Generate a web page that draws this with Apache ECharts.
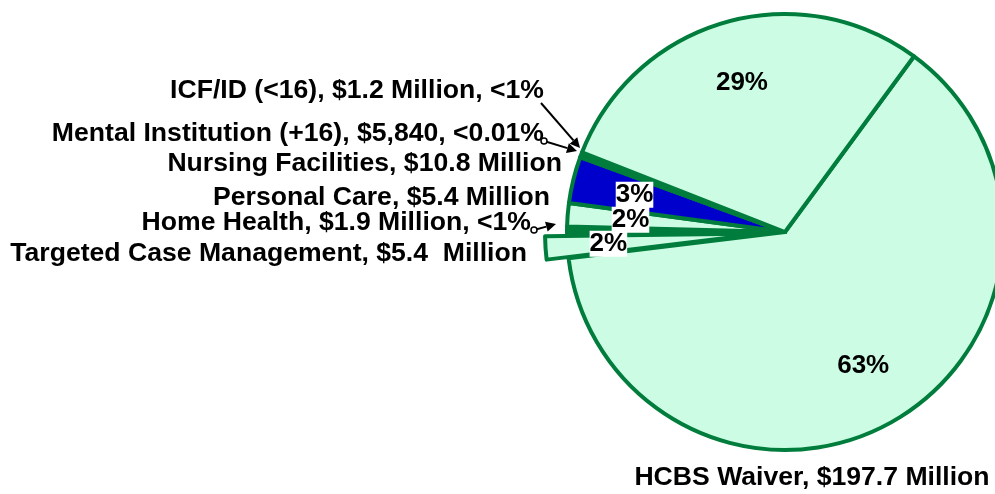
<!DOCTYPE html>
<html>
<head>
<meta charset="utf-8">
<title>Gastos por serviço</title>
<script src="https://cdn.jsdelivr.net/npm/echarts@6/dist/echarts.min.js"></script>
<style>
  html, body { margin: 0; padding: 0; background: #fff; }
  #chart { width: 995px; height: 494px; }
</style>
</head>
<body>
<div id="chart"></div>
<script>
// fatias na ordem de desenho (sentido horário a partir da linha superior direita)
const categorias = ['HCBS Waiver', 'Targeted Case Management', 'Home Health', 'Personal Care',
  'Nursing Facilities', 'Mental Institution (+16)', 'ICF/ID (<16)', 'Other'];
// milhões de dólares
const valores = [197.7, 5.4, 1.9, 5.4, 10.8, 0.00584, 1.2, 91.4];
const rotulos = [
  'HCBS Waiver, $197.7 Million',
  'Targeted Case Management, $5.4  Million',
  'Home Health, $1.9 Million, <1%',
  'Personal Care, $5.4 Million',
  'Nursing Facilities, $10.8 Million',
  'Mental Institution (+16), $5,840, <0.01%',
  'ICF/ID (<16), $1.2 Million, <1%',
  ''
];
const mostraPct = [true, true, false, true, true, false, false, true];
const destacado = [false, true, false, false, false, false, false, false];

// estilo e posições (fora dos dados)
const VERDE = '#007d3c';
const CLARO = '#ccfde4';
const AZUL = '#0000cc';
const cores = [CLARO, CLARO, VERDE, CLARO, AZUL, VERDE, VERDE, CLARO];
const FONTE = '"Liberation Sans", Arial, sans-serif';
const CENTRO = [785, 232];
const RAIO = 218;
const INICIO = 53.7;

// [x, y, align] dos rótulos de nome
const posRotulos = [
  [812, 478, 'center'],
  [527, 254, 'right'],
  [531, 223, 'right'],
  [550, 198, 'right'],
  [562, 164, 'right'],
  [544, 134, 'right'],
  [544, 91, 'right'],
  null
];

// setas de chamada
const setas = [
  { de: [541, 103], ate: [580, 148], bola: false },
  { de: [544, 141], ate: [577, 151], bola: true },
  { de: [534, 230], ate: [556, 224], bola: true }
];

function montaSetas(){
  const els = [];
  setas.forEach(s => {
    const dx = s.ate[0] - s.de[0], dy = s.ate[1] - s.de[1];
    const len = Math.sqrt(dx*dx + dy*dy);
    const ux = dx/len, uy = dy/len, nx = -uy, ny = ux;
    const bx = s.ate[0] - ux*10, by = s.ate[1] - uy*10;
    els.push({ type: 'line', shape: { x1: s.de[0], y1: s.de[1], x2: bx, y2: by },
      style: { stroke: '#000', lineWidth: 2 }, z: 100 });
    els.push({ type: 'polygon', shape: { points: [s.ate, [bx + nx*5, by + ny*5], [bx - nx*5, by - ny*5]] },
      style: { fill: '#000' }, z: 100 });
    if(s.bola){
      els.push({ type: 'circle', shape: { cx: s.de[0], cy: s.de[1], r: 3 },
        style: { fill: '#fff', stroke: '#000', lineWidth: 1.5 }, z: 101 });
    }
  });
  return els;
}

const chart = echarts.init(document.getElementById('chart'), null, { renderer: 'canvas' });

const base = {
  type: 'pie',
  center: CENTRO,
  startAngle: INICIO,
  clockwise: true,
  avoidLabelOverlap: false,
  silent: true,
  emphasis: { disabled: true },
  labelLine: { show: false }
};

// fatias visíveis, com a fatia destacada deslocada
const serieFatias = Object.assign({}, base, {
  radius: RAIO,
  selectedMode: 'multiple',
  selectedOffset: 22,
  itemStyle: { borderColor: VERDE, borderWidth: 4 },
  label: { show: false },
  data: categorias.map((n, i) => ({
    name: n, value: valores[i], selected: destacado[i], itemStyle: { color: cores[i] }
  }))
});

// camada transparente só para os nomes
const serieNomes = Object.assign({}, base, {
  radius: RAIO,
  itemStyle: { color: 'rgba(0,0,0,0)', borderWidth: 0 },
  label: {
    position: 'outside',
    formatter: p => rotulos[p.dataIndex],
    fontFamily: FONTE, fontWeight: 'bold', fontSize: 26.6, color: '#000'
  },
  labelLayout: p => {
    const q = posRotulos[p.dataIndex];
    return q ? { x: q[0], y: q[1], align: q[2], verticalAlign: 'middle', hideOverlap: false } : {};
  },
  data: categorias.map((n, i) => ({
    name: n, value: valores[i], label: { show: rotulos[i] !== '' }
  }))
});

// camada transparente para as porcentagens (acompanha o destaque)
const seriePct = Object.assign({}, base, {
  radius: [86, RAIO],
  selectedMode: 'multiple',
  selectedOffset: 22,
  percentPrecision: 0,
  itemStyle: { color: 'rgba(0,0,0,0)', borderWidth: 0 },
  label: {
    position: 'inside',
    formatter: p => p.percent < 10 ? '{caixa|' + p.percent + '%}' : p.percent + '%',
    fontFamily: FONTE, fontWeight: 'bold', fontSize: 26, color: '#000',
    rich: {
      caixa: {
        fontFamily: FONTE, fontWeight: 'bold', fontSize: 26, color: '#000',
        backgroundColor: '#fff', padding: 0, lineHeight: 22
      }
    }
  },
  labelLayout: { hideOverlap: false, moveOverlap: false },
  data: categorias.map((n, i) => ({
    name: n, value: valores[i], selected: destacado[i], label: { show: mostraPct[i] }
  }))
});

chart.setOption({
  animation: false,
  backgroundColor: '#fff',
  series: [serieFatias, serieNomes, seriePct],
  graphic: montaSetas()
});
</script>
</body>
</html>
